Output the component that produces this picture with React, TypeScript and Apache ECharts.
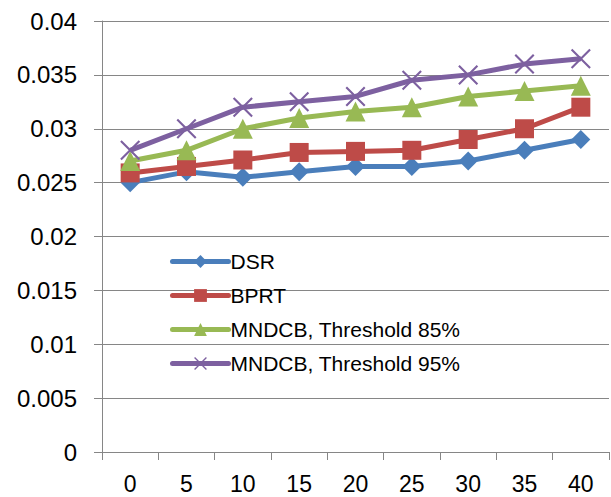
import React, { useEffect, useRef } from "react";
import * as echarts from "echarts";

const categories = ["0", "5", "10", "15", "20", "25", "30", "35", "40"];
const dsr = [0.025, 0.026, 0.0255, 0.026, 0.0265, 0.0265, 0.027, 0.028, 0.029];
const bprt = [0.0259, 0.0265, 0.0271, 0.0278, 0.0279, 0.028, 0.029, 0.03, 0.032];
const mndcb85 = [0.027, 0.028, 0.03, 0.031, 0.0316, 0.032, 0.033, 0.0335, 0.034];
const mndcb95 = [0.028, 0.03, 0.032, 0.0325, 0.033, 0.0345, 0.035, 0.036, 0.0365];
const seriesNames = ["DSR", "BPRT", "MNDCB, Threshold 85%", "MNDCB, Threshold 95%"];

const FONT = "Liberation Sans";
const CROSS =
  "path://M0,1.5 L1.5,0 L10,8.5 L18.5,0 L20,1.5 L11.5,10 L20,18.5 L18.5,20 L10,11.5 L1.5,20 L0,18.5 L8.5,10 Z";

export default function App() {
  const ref = useRef<HTMLDivElement>(null);
  useEffect(() => {
    if (!ref.current) return;
    const chart = echarts.init(ref.current, undefined, { renderer: "svg" });
    const mk = (name: string, data: number[], color: string, symbol: string, size: number) => ({
      name,
      type: "line",
      data,
      symbol,
      symbolSize: size,
      lineStyle: { color, width: 5 },
      itemStyle: { color },
      z: 3,
    });
    chart.setOption({
      animation: false,
      backgroundColor: "#ffffff",
      grid: { left: 102, right: 2, top: 21, bottom: 45, containLabel: false },
      legend: {
        orient: "vertical",
        left: 165,
        top: 246,
        itemWidth: 56,
        itemHeight: 16,
        itemGap: 13,
        lineStyle: { width: 5, cap: "round" },
        textStyle: {
          fontFamily: FONT,
          fontSize: 21,
          lineHeight: 21,
          color: "#000",
          padding: [0, 0, 0, -3],
        },
        data: seriesNames,
      },
      xAxis: {
        type: "category",
        data: categories,
        boundaryGap: true,
        axisLine: { lineStyle: { color: "#868686", width: 1 } },
        axisTick: { show: true, length: 8, lineStyle: { color: "#868686" } },
        axisLabel: { fontFamily: FONT, fontSize: 23, lineHeight: 23, color: "#000", margin: 20 },
        splitLine: { show: false },
      },
      yAxis: {
        type: "value",
        min: 0,
        max: 0.04,
        interval: 0.005,
        axisLine: { show: true, lineStyle: { color: "#868686", width: 1 } },
        axisTick: { show: true, length: 8, lineStyle: { color: "#868686" } },
        axisLabel: {
          fontFamily: FONT,
          fontSize: 24,
          color: "#000",
          margin: 25,
          formatter: (v: number) => String(+v.toFixed(3)),
        },
        splitLine: { show: true, lineStyle: { color: "#868686", width: 1 } },
      },
      series: [
        mk(seriesNames[0], dsr, "#4A7EBB", "diamond", 19),
        mk(seriesNames[1], bprt, "#BE4B48", "rect", 19),
        mk(seriesNames[2], mndcb85, "#98B954", "triangle", 20),
        mk(seriesNames[3], mndcb95, "#7D60A0", CROSS, 20),
      ],
    });
    return () => chart.dispose();
  }, []);
  return (
    <div
      ref={ref}
      style={{ position: "fixed", left: 0, top: 0, width: 611, height: 497 }}
    />
  );
}
